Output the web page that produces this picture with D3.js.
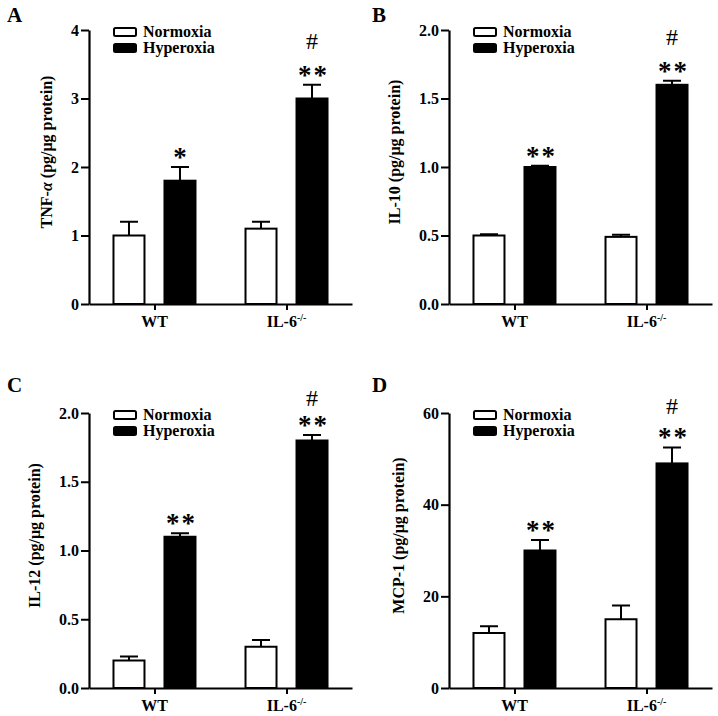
<!DOCTYPE html>
<html><head><meta charset="utf-8">
<script src="https://cdn.jsdelivr.net/npm/d3@7"></script>
<style>
body{margin:0;background:#fff}
svg{display:block}
text{font-family:"Liberation Serif","Times New Roman",serif;font-weight:bold;fill:#000}
</style>
</head><body><svg id="c" width="718" height="716"></svg>
<script>
// ---------- data ----------
const groups = ["WT", "IL-6"];
const groupSup = ["", "-/-"];
const seriesNames = ["Normoxia", "Hyperoxia"];
const panelLetters = ["A", "B", "C", "D"];
const yLabelMain = ["TNF-", "IL-10", "IL-12", "MCP-1"];
const yLabelGreek = ["α", "", "", ""];
const yLabelUnit = " (pg/μg protein)";
const yMaxes = [4, 2, 2, 60];
const yTicksA = [0, 1, 2, 3, 4];
const yTicksB = [0, 0.5, 1.0, 1.5, 2.0];
const yTicksC = [0, 0.5, 1.0, 1.5, 2.0];
const yTicksD = [0, 20, 40, 60];
const yTickFormats = ["d", ".1f", ".1f", "d"];

const tnfNormoxia = [1.0, 1.1],  tnfNormoxiaErr = [0.2, 0.1];
const tnfHyperoxia = [1.8, 3.0], tnfHyperoxiaErr = [0.2, 0.2];
const il10Normoxia = [0.5, 0.49],  il10NormoxiaErr = [0.01, 0.015];
const il10Hyperoxia = [1.0, 1.6],  il10HyperoxiaErr = [0.01, 0.03];
const il12Normoxia = [0.2, 0.3],   il12NormoxiaErr = [0.03, 0.05];
const il12Hyperoxia = [1.1, 1.8],  il12HyperoxiaErr = [0.025, 0.04];
const mcpNormoxia = [12, 15],      mcpNormoxiaErr = [1.5, 3.0];
const mcpHyperoxia = [30, 49],     mcpHyperoxiaErr = [2.3, 3.5];

const hyperStarsA = ["*", "**"];
const hyperStarsB = ["**", "**"];
const hyperStarsC = ["**", "**"];
const hyperStarsD = ["**", "**"];
const hashMark = "#";

// ---------- layout ----------
const panels = [
  {x: 89,  top: 30,  bottom: 304, ticks: yTicksA, n: tnfNormoxia, ne: tnfNormoxiaErr, h: tnfHyperoxia, he: tnfHyperoxiaErr, stars: hyperStarsA, hashGap: 30, letter: [7, 22]},
  {x: 449, top: 30,  bottom: 304, ticks: yTicksB, n: il10Normoxia, ne: il10NormoxiaErr, h: il10Hyperoxia, he: il10HyperoxiaErr, stars: hyperStarsB, hashGap: 30, letter: [372, 22]},
  {x: 89,  top: 413, bottom: 688, ticks: yTicksC, n: il12Normoxia, ne: il12NormoxiaErr, h: il12Hyperoxia, he: il12HyperoxiaErr, stars: hyperStarsC, hashGap: 23, letter: [7, 392]},
  {x: 449, top: 413, bottom: 688, ticks: yTicksD, n: mcpNormoxia, ne: mcpNormoxiaErr, h: mcpHyperoxia, he: mcpHyperoxiaErr, stars: hyperStarsD, hashGap: 27, letter: [372, 392]}
];
const axisLen = 263;
const svg = d3.select("#c");

panels.forEach((p, i) => {
  const g = svg.append("g");
  const y = d3.scaleLinear().domain([0, yMaxes[i]]).range([p.bottom, p.top]);
  const x0 = d3.scalePoint().domain(groups).range([p.x, p.x + axisLen]).padding(0.496);
  const x1 = d3.scaleBand().domain(seriesNames).range([-42, 42]).paddingInner(0.353);

  // y axis
  const yAxis = d3.axisLeft(y).tickValues(p.ticks).tickFormat(d3.format(yTickFormats[i])).tickSize(8).tickSizeOuter(0).tickPadding(2);
  const ya = g.append("g").attr("transform", `translate(${p.x},0)`).call(yAxis);
  ya.select(".domain").attr("stroke", "#000").attr("stroke-width", 2.2);
  ya.selectAll(".tick line").attr("stroke", "#000").attr("stroke-width", 2);
  ya.selectAll(".tick text").style("font-size", "16px").style("font-family", '"Liberation Serif","Times New Roman",serif').style("font-weight", "bold").attr("fill", "#000");

  // x axis
  const xAxis = d3.axisBottom(x0).tickSize(6).tickSizeOuter(0).tickFormat(() => "");
  const xa = g.append("g").attr("transform", `translate(0,${p.bottom})`).call(xAxis);
  xa.select(".domain").attr("stroke", "#000").attr("stroke-width", 2.2);
  xa.selectAll(".tick line").attr("stroke", "#000").attr("stroke-width", 2);
  groups.forEach((gr, j) => {
    const t = g.append("text").attr("x", x0(gr)).attr("y", p.bottom + 23).attr("text-anchor", "middle").style("font-size", "16px").text(gr);
    if (groupSup[j]) t.append("tspan").attr("dy", -6).style("font-size", "10px").text(groupSup[j]);
  });

  // bars
  const data = [];
  groups.forEach((gr, j) => {
    data.push({g: gr, s: seriesNames[0], v: p.n[j], e: p.ne[j]});
    data.push({g: gr, s: seriesNames[1], v: p.h[j], e: p.he[j]});
  });
  const bx = d => x0(d.g) + x1(d.s);
  g.selectAll(".err").data(data).enter().append("path")
    .attr("d", d => {
      const cx = bx(d) + x1.bandwidth() / 2;
      return `M${cx},${y(d.v)}V${y(d.v + d.e)}M${cx - 9},${y(d.v + d.e)}H${cx + 9}`;
    })
    .attr("stroke", "#000").attr("stroke-width", 2).attr("fill", "none");
  g.selectAll(".bar").data(data).enter().append("rect")
    .attr("x", d => bx(d) + 1).attr("width", x1.bandwidth() - 2)
    .attr("y", d => y(d.v)).attr("height", d => p.bottom - y(d.v))
    .attr("fill", d => d.s === "Normoxia" ? "#fff" : "#000")
    .attr("stroke", "#000").attr("stroke-width", 2);

  // annotations
  groups.forEach((gr, j) => {
    const cx = x0(gr) + x1("Hyperoxia") + x1.bandwidth() / 2;
    const sy = y(p.h[j] + p.he[j]) - 14;
    const st = g.append("text").attr("y", sy + 13).style("font-size", "27px").style("font-weight", "bold").text(p.stars[j]);
    if (p.stars[j].length > 1) st.attr("x", cx - 14).attr("text-anchor", "start").style("letter-spacing", "2px");
    else st.attr("x", cx).attr("text-anchor", "middle");
    if (j === 1) {
      g.append("text").attr("x", cx).attr("y", sy - p.hashGap + 8).attr("text-anchor", "middle").style("font-size", "24px").style("font-weight", "normal").text(hashMark);
    }
  });

  // legend
  seriesNames.forEach((s, k) => {
    const ly = p.top - 2 + k * 16;
    g.append("rect").attr("x", p.x + 25).attr("y", ly).attr("width", 22).attr("height", 8)
      .attr("rx", 1.5).attr("fill", k === 0 ? "#fff" : "#000").attr("stroke", "#000").attr("stroke-width", 2);
    g.append("text").attr("x", p.x + 54).attr("y", ly + 9).style("font-size", "16px").text(s);
  });

  // y label
  let tickLeft = p.x;
  ya.selectAll(".tick text").each(function () { const b = this.getBBox(); tickLeft = Math.min(tickLeft, p.x + b.x); });
  const lx = tickLeft - 19, lyc = (p.top + p.bottom) / 2 - 15;
  const lab = g.append("text").attr("transform", `translate(${lx},${lyc}) rotate(-90)`).attr("text-anchor", "middle").style("font-size", "16px");
  lab.append("tspan").text(yLabelMain[i]);
  if (yLabelGreek[i]) lab.append("tspan").style("font-style", "italic").text(yLabelGreek[i]);
  lab.append("tspan").text(yLabelUnit);

  // panel letter
  g.append("text").attr("x", p.letter[0]).attr("y", p.letter[1]).style("font-size", "21px").text(panelLetters[i]);
});
</script>
</body></html>
